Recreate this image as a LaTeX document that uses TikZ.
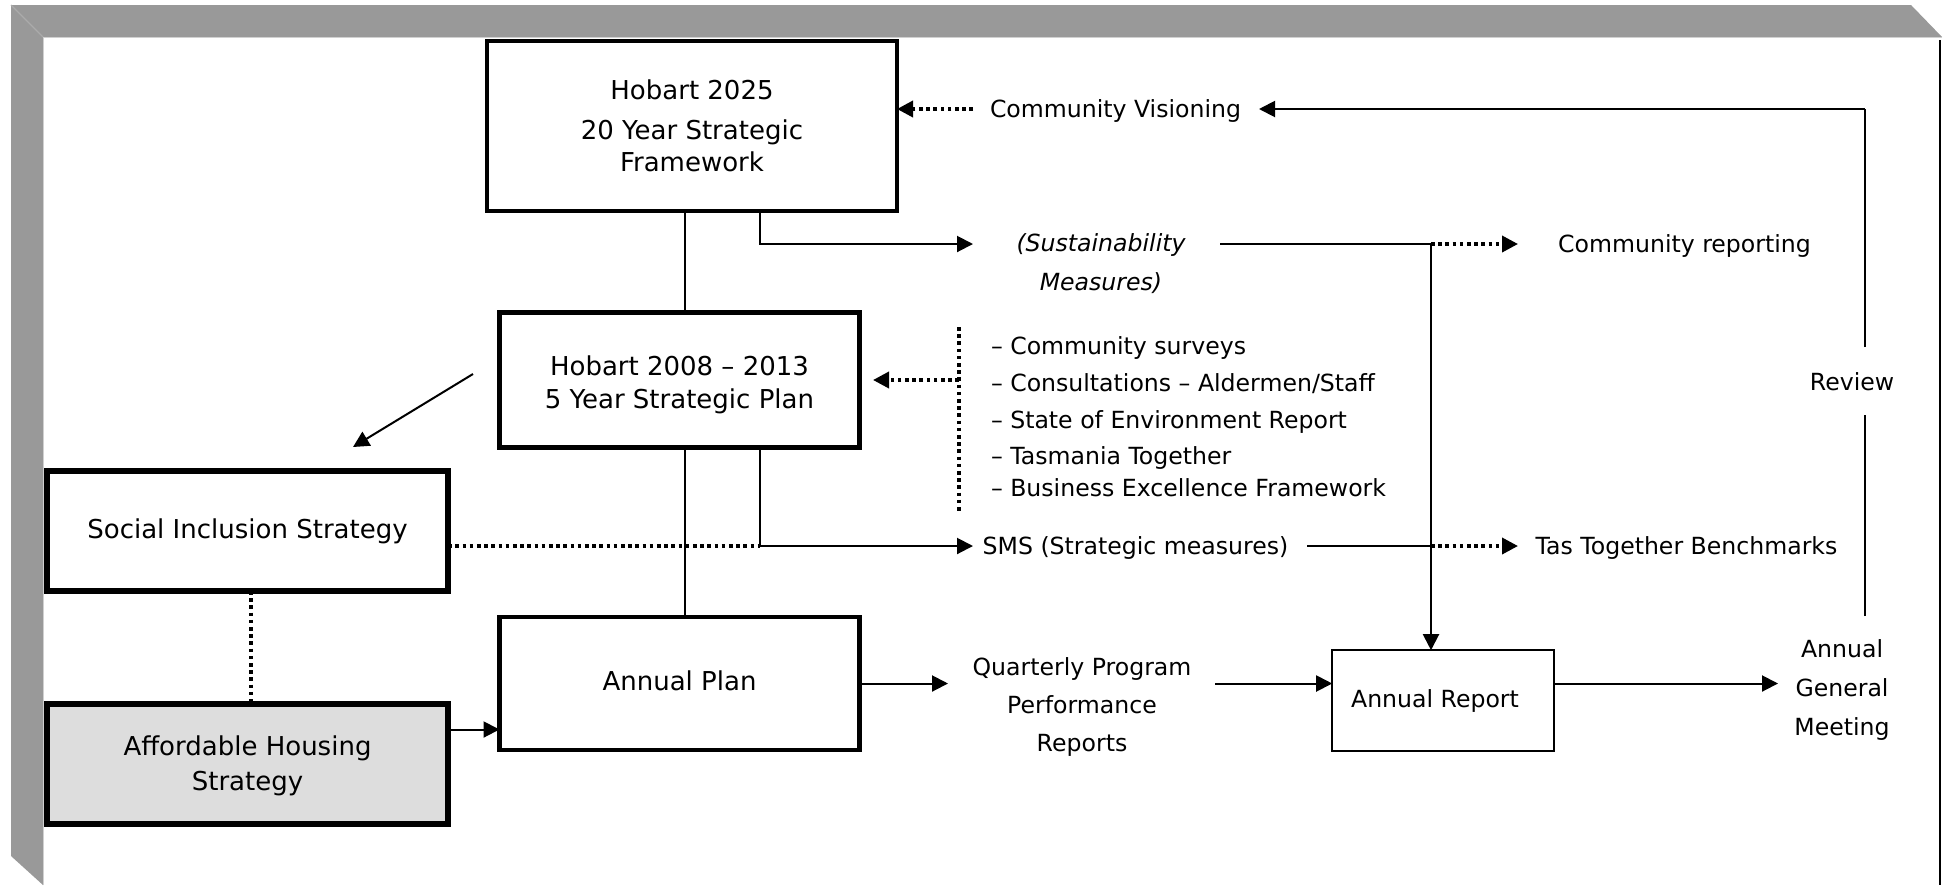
\documentclass[tikz,border=0pt]{standalone}
\usepackage{fontspec}
\setmainfont{DejaVu Sans}
\usetikzlibrary{arrows.meta}
\definecolor{framegray}{HTML}{999999}
\definecolor{bevelgray}{HTML}{ABABAB}
\definecolor{edgegray}{HTML}{D0D0D0}
\definecolor{housefill}{HTML}{DDDDDD}
\begin{document}
\begin{tikzpicture}[x=0.5pt,y=-0.5pt,
  every node/.style={font=\fontsize{11.8}{17}\selectfont, inner sep=0pt, outer sep=0pt},
  plainbox/.style={draw, line width=2.2pt, align=center},
  heavybox/.style={draw, line width=2.9pt, align=center},
  lightbox/.style={draw, line width=1.2pt, align=center},
  lbl/.style={align=center},
  oneline/.style={anchor=base},
  listitem/.style={anchor=base west},
  link/.style={line width=1pt},
  flow/.style={line width=1pt, -{Triangle[length=8pt,width=8pt]}},
  dotlink/.style={line width=1.8pt, dash pattern=on 1.8pt off 1.8pt},
  dotflow/.style={dotlink, -{Triangle[length=8pt,width=8pt]}},
]
\useasboundingbox (0,0) rectangle (1943,885);

% page border with bevelled shadow edges
\fill[framegray] (11,5) -- (1911,5) -- (1942,37) -- (43,37) -- (43,885) -- (11,856) -- cycle;
\draw[bevelgray, line width=0.6pt] (11,5) -- (43,37);
\draw[edgegray, line width=0.5pt] (43,885) -- (43,37.5) -- (1942,37.5);
\draw[line width=1pt] (1940,40) -- (1940,885);

% boxes
\node[plainbox, minimum width=205pt, minimum height=85pt,
      font=\fontsize{13}{16.1}\selectfont] (h25) at (692,126)
  {Hobart 2025\\[3.7pt]20 Year Strategic\\Framework};
\node[plainbox, minimum width=180pt, minimum height=67.5pt,
      font=\fontsize{13}{16.7}\selectfont] (h08) at (679.5,380)
  {\rule{0pt}{14.5pt}Hobart 2008 – 2013\\5 Year Strategic Plan};
\node[heavybox, minimum width=200.6pt, minimum height=60pt,
      font=\fontsize{13}{17}\selectfont] (sis) at (247.5,531)
  {Social Inclusion Strategy};
\node[heavybox, fill=housefill, minimum width=200.6pt, minimum height=60pt,
      font=\fontsize{13}{17.35}\selectfont] (ahs) at (247.5,764)
  {\rule{0pt}{11.9pt}Affordable Housing\\Strategy};
\node[plainbox, minimum width=180pt, minimum height=66.3pt,
      font=\fontsize{13}{17}\selectfont] (ap) at (679.5,683.5)
  {\rule[-2.5pt]{0pt}{2.5pt}Annual Plan};
\node[lightbox, minimum width=110.8pt, minimum height=50.3pt] (ar) at (1443,700.5)
  {Annual Report\hspace*{8pt}};

% free-standing labels
\node[oneline] (cv) at (1115.5,117) {Community Visioning};
\node[lbl] (sust) at (1101,264) {\itshape (Sustainability\\[2.5pt]\itshape Measures)};
\node[oneline] (cr) at (1684.5,252) {Community reporting};
\node[oneline] (sms) at (1135.5,554) {SMS (Strategic measures)};
\node[oneline] (tas) at (1686.5,554) {Tas Together Benchmarks};
\node[oneline] (review) at (1852,390) {Review};
\node[lbl] (qpr) at (1082,707) {Quarterly Program\\[2pt]Performance\\[2pt]Reports};
\node[lbl] (agm) at (1842,690) {Annual\\[2.5pt]General\\[2.5pt]Meeting};

% inputs to the five year plan
\node[listitem] (l1) at (991,354.3) {– Community surveys};
\node[listitem] (l2) at (991,391.5) {– Consultations – Aldermen/Staff};
\node[listitem] (l3) at (991,428.6) {– State of Environment Report};
\node[listitem] (l4) at (991,464.6) {– Tasmania Together};
\node[listitem] (l5) at (991,496.8) {– Business Excellence Framework};

% connector anchor points
\coordinate (spine) at (685,0);
\coordinate (sustcorner) at (760,244);
\coordinate (sustin) at (973,244);
\coordinate (sustout) at (1220,244);
\coordinate (reportx) at (1431,244);
\coordinate (crin) at (1518,244);
\coordinate (smscorner) at (760,546);
\coordinate (smsin) at (973,546);
\coordinate (smsout) at (1307,546);
\coordinate (smsjoin) at (1431,546);
\coordinate (tasin) at (1518,546);
\coordinate (cvout) at (973,109);
\coordinate (cvin) at (1259,109);
\coordinate (reviewcorner) at (1865,109);
\coordinate (reviewup) at (1865,347);
\coordinate (reviewdown) at (1865,415);
\coordinate (agmtop) at (1865,616);
\coordinate (bracktop) at (959,327);
\coordinate (brackbot) at (959,513);
\coordinate (brackmid) at (959,380);
\coordinate (h08in) at (873,380);
\coordinate (diagfrom) at (473,374);
\coordinate (diagto) at (353,447);
\coordinate (housey) at (0,729.5);
\coordinate (qin) at (948,683.5);
\coordinate (qout) at (1215,683.5);
\coordinate (agmin) at (1778,683.5);
\coordinate (sisdrop) at (251,0);

% main spine of plans
\draw[link] (h25.south -| spine) -- (h08.north -| spine);
\draw[link] (h08.south -| spine) -- (ap.north -| spine);

% sustainability measures branch
\draw[flow] (h25.south -| sustcorner) |- (sustin);
\draw[link] (sustout) -- (reportx);
\draw[dotflow] (reportx) -- (crin);
\draw[flow] (reportx) -- (ar.north -| reportx);

% strategic measures branch
\draw[flow] (h08.south -| smscorner) |- (smsin);
\draw[dotlink] (sis.east |- smscorner) -- (smscorner);
\draw[link] (smsout) -- (smsjoin);
\draw[dotflow] (smsjoin) -- (tasin);

% community visioning and review loop
\draw[dotflow] (cvout) -- (h25.east |- cvout);
\draw[flow] (reviewcorner) -- (cvin);
\draw[link] (reviewup) -- (reviewcorner);
\draw[link] (agmtop) -- (reviewdown);

% consultation inputs
\draw[dotlink] (bracktop) -- (brackbot);
\draw[dotflow] (brackmid) -- (h08in);

% strategies
\draw[flow] (diagfrom) -- (diagto);
\draw[dotlink] (sis.south -| sisdrop) -- (ahs.north -| sisdrop);
\draw[flow] (ahs.east |- housey) -- (ap.west |- housey);

% annual cycle
\draw[flow] (ap.east |- qin) -- (qin);
\draw[flow] (qout) -- (ar.west |- qout);
\draw[flow] (ar.east |- qout) -- (agmin);
\end{tikzpicture}
\end{document}
